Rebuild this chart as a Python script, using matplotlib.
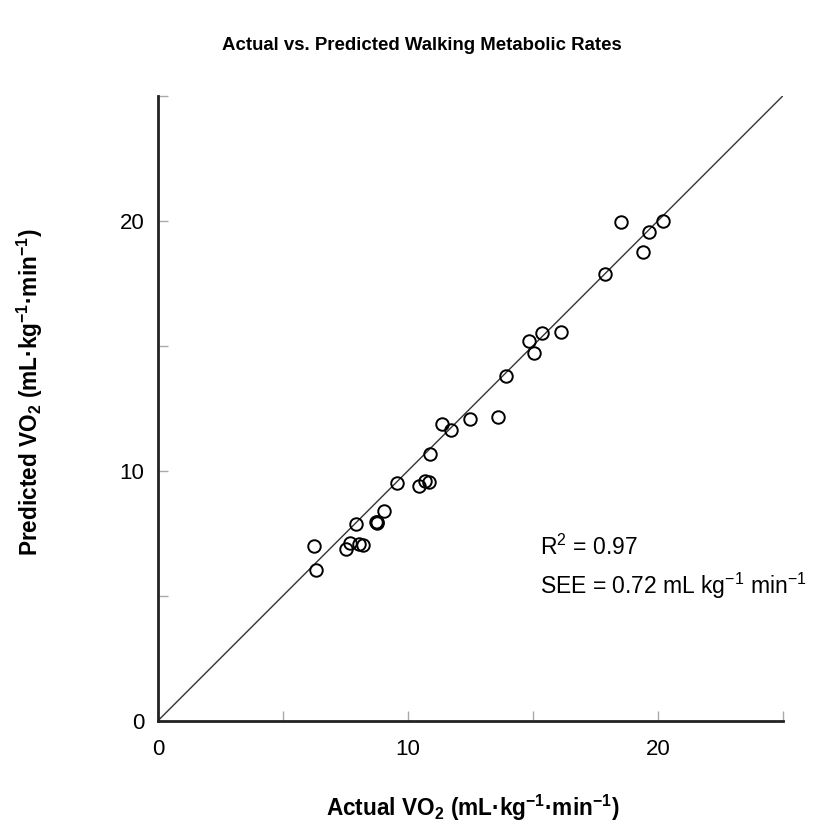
import matplotlib
matplotlib.use("Agg")
import matplotlib.pyplot as plt

plt.rcParams['font.family'] = ['Liberation Sans', 'DejaVu Sans']
plt.rcParams['mathtext.default'] = 'regular'

# measured vs. predicted VO2 (mL/kg/min)
actual_vo2 = [6.25, 6.33, 7.52, 7.69, 7.92, 8.05, 8.22, 8.72, 8.75, 8.78,
              9.06, 9.56, 10.45, 10.69, 10.83, 10.87, 11.36, 11.73, 12.47,
              13.59, 13.91, 14.83, 15.06, 15.36, 16.13, 17.87, 18.53, 19.41,
              19.64, 20.20]
predicted_vo2 = [7.01, 6.05, 6.89, 7.13, 7.88, 7.08, 7.02, 7.97, 7.95, 7.93,
                 8.40, 9.51, 9.40, 9.61, 9.57, 10.67, 11.88, 11.64, 12.09,
                 12.15, 13.80, 15.21, 14.71, 15.50, 15.54, 17.88, 19.97, 18.74,
                 19.54, 20.01]
identity = [0, 25]
tick_values = [0, 5, 10, 15, 20, 25]
tick_labels = ['0', '', '10', '', '20', '']
r_squared = 0.97
see = 0.72

fig = plt.figure(figsize=(8.2, 8.35), dpi=100)
ax = fig.add_axes([0.1927, 0.1369, 0.7618, 0.7481])

ax.plot(identity, identity, color='#333333', linewidth=1.0)
ax.plot(actual_vo2, predicted_vo2, linestyle='none', marker='o',
        markersize=9, markerfacecolor='none', markeredgecolor='black',
        markeredgewidth=1.4)

ax.set_xlim(0, 25)
ax.set_ylim(0, 25)
ax.set_xticks(tick_values)
ax.set_xticklabels(tick_labels)
ax.set_yticks(tick_values)
ax.set_yticklabels(tick_labels)
ax.tick_params(direction='in', length=7, width=1, color='#aaaaaa',
               labelsize=16, pad=13)
ax.tick_params(axis='y', pad=10)

for side in ['top', 'right']:
    ax.spines[side].set_visible(False)
for side in ['left', 'bottom']:
    ax.spines[side].set_linewidth(2)
    ax.spines[side].set_color('#222222')

ax.text(15.3, 6.92, r'R$^2$ = %.2f' % r_squared, fontsize=16.5,
        va='center')
ax.text(15.3, 5.39, r'SEE = %.2f mL kg$^{-1}$ min$^{-1}$' % see,
        fontsize=16.5, va='center', clip_on=False)

fig.text(0.515, 0.946, 'Actual vs. Predicted Walking Metabolic Rates',
         ha='center', va='center', fontsize=13.4, fontweight='bold')
fig.text(0.576, 0.032, r'Actual VO$_2$ (mL·kg$^{-1}$·min$^{-1}$)',
         ha='center', va='center', fontsize=16.3, fontweight='bold')
fig.text(0.036, 0.53, r'Predicted VO$_2$ (mL·kg$^{-1}$·min$^{-1}$)',
         ha='center', va='center', rotation=90, fontsize=16.3,
         fontweight='bold')

fig.savefig('out.png', dpi=100)
